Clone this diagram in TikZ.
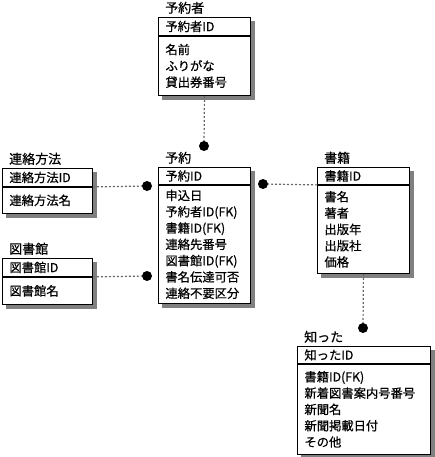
\documentclass[tikz,border=0pt]{standalone}
\usepackage{fontspec}
\setmainfont{Noto Sans CJK JP}[BoldFont={Noto Sans CJK JP}, BoldFeatures={FakeBold=0.6}]
\usetikzlibrary{backgrounds}

\begin{document}
\begin{tikzpicture}[x=1pt, y=-1pt,
  every node/.style={font=\fontsize{12.3}{16.3}\selectfont\bfseries},
  keybox/.style={draw, line width=0.9pt, fill=white, anchor=north west, inner xsep=7pt, inner ysep=0pt, align=left},
  enttitle/.style={anchor=south west, inner xsep=7pt, inner ysep=3pt, font=\fontsize{13}{16}\selectfont\bfseries},
  shadowfill/.style={fill=black!50},
  rel/.style={draw=black!60, line width=1.2pt, dash pattern=on 2pt off 2pt},
  reldot/.style={circle, fill=black, inner sep=0pt, minimum size=10pt}]
  \useasboundingbox (0,0) rectangle (434,457);

  % entities
  \node[keybox, text width=78, minimum height=18] (ksha) at (158,17) {予約者ID};
  \node[keybox, text width=78, minimum height=59] (asha) at (ksha.south west) {名前\\ふりがな\\貸出券番号};
  \node[enttitle] (tsha) at (ksha.north west) {予約者};

  \node[keybox, text width=78, minimum height=17] (kyoyaku) at (158,167) {予約ID};
  \node[keybox, text width=78, minimum height=118] (ayoyaku) at (kyoyaku.south west) {申込日\\予約者ID(FK)\\書籍ID(FK)\\連絡先番号\\図書館ID(FK)\\書名伝達可否\\連絡不要区分};
  \node[enttitle] (tyoyaku) at (kyoyaku.north west) {予約};

  \node[keybox, text width=78, minimum height=17] (kbook) at (317,167) {書籍ID};
  \node[keybox, text width=78, minimum height=88] (abook) at (kbook.south west) {書名\\著者\\出版年\\出版社\\価格};
  \node[enttitle] (tbook) at (kbook.north west) {書籍};

  \node[keybox, text width=76, minimum height=18] (krenraku) at (2,168) {連絡方法ID};
  \node[keybox, text width=76, minimum height=26] (arenraku) at (krenraku.south west) {連絡方法名};
  \node[enttitle] (trenraku) at (krenraku.north west) {連絡方法};

  \node[keybox, text width=76, minimum height=18] (klib) at (2,258) {図書館ID};
  \node[keybox, text width=76, minimum height=27] (alib) at (klib.south west) {図書館名};
  \node[enttitle] (tlib) at (klib.north west) {図書館};

  \node[keybox, text width=119, minimum height=17] (kshitta) at (297,346) {知ったID};
  \node[keybox, text width=119, minimum height=90] (ashitta) at (kshitta.south west) {書籍ID(FK)\\新着図書案内号番号\\新聞名\\新聞掲載日付\\その他};
  \node[enttitle] (tshitta) at (kshitta.north west) {知った};

  % shadows
  \begin{scope}[on background layer]
    \foreach \k/\a in {ksha/asha, kyoyaku/ayoyaku, kbook/abook, krenraku/arenraku, klib/alib, kshitta/ashitta}
      \fill[shadowfill] ([shift={(4,4)}]\k.north west) rectangle ([shift={(4,4)}]\a.south east);
  \end{scope}

  % relationships
  \node[reldot] (dsha) at (204,146) {};
  \node[reldot] (drenraku) at (147,186) {};
  \node[reldot] (dlib) at (147,276) {};
  \node[reldot] (dbook) at (263,184) {};
  \node[reldot] (dshitta) at (363,328) {};
  \draw[rel] (asha.south) -- (dsha);
  \draw[rel] (krenraku.south east) -- (drenraku);
  \draw[rel] (klib.south east) -- (dlib);
  \draw[rel] (kbook.south west) -- (dbook);
  \draw[rel] (abook.south) -- (dshitta);
\end{tikzpicture}
\end{document}
